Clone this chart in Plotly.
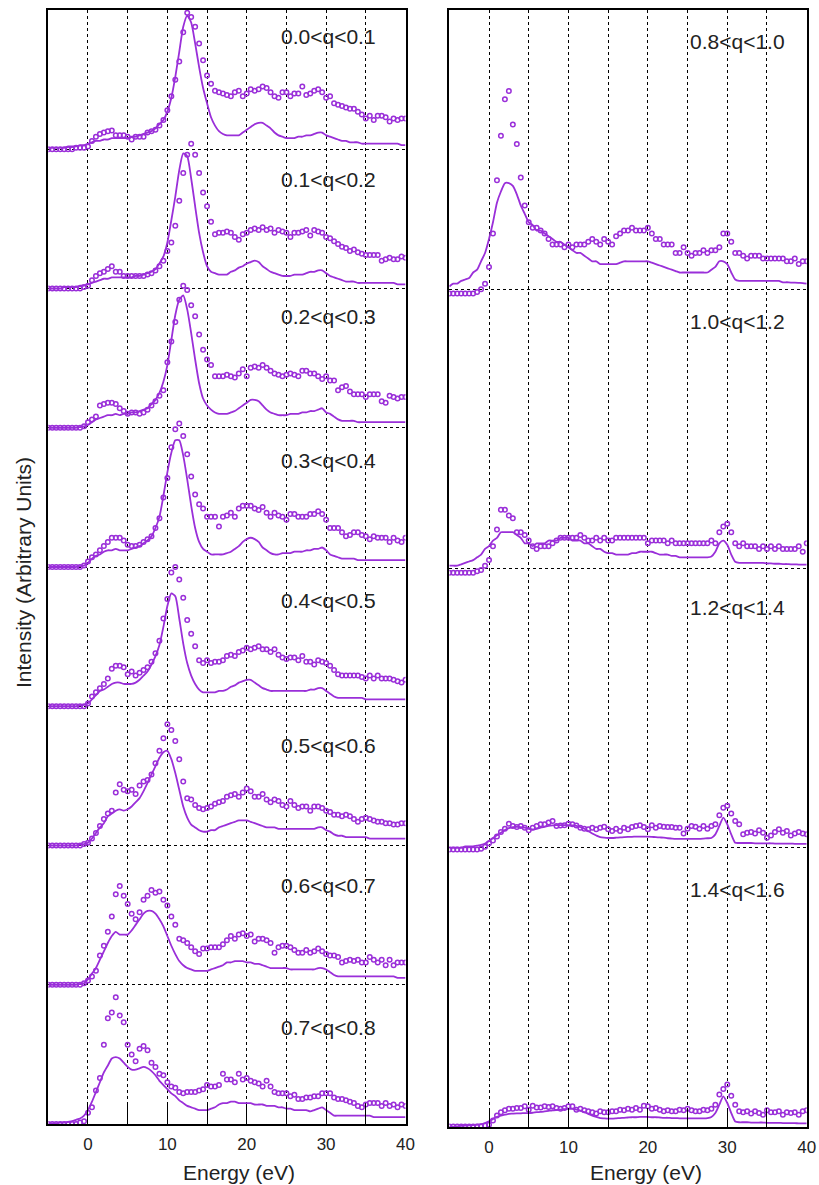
import plotly.graph_objects as go

# ---------------- data (intensities in % of one panel height) ----------------
ENERGY_EV = [-5.0, -4.5, -4.0, -3.5, -3.0, -2.5, -2.0, -1.5, -1.0, -0.5,
             0.0, 0.5, 1.0, 1.5, 2.0, 2.5, 3.0, 3.5, 4.0, 4.5,
             5.0, 5.5, 6.0, 6.5, 7.0, 7.5, 8.0, 8.5, 9.0, 9.5,
             10.0, 10.5, 11.0, 11.5, 12.0, 12.5, 13.0, 13.5, 14.0, 14.5,
             15.0, 15.5, 16.0, 16.5, 17.0, 17.5, 18.0, 18.5, 19.0, 19.5,
             20.0, 20.5, 21.0, 21.5, 22.0, 22.5, 23.0, 23.5, 24.0, 24.5,
             25.0, 25.5, 26.0, 26.5, 27.0, 27.5, 28.0, 28.5, 29.0, 29.5,
             30.0, 30.5, 31.0, 31.5, 32.0, 32.5, 33.0, 33.5, 34.0, 34.5,
             35.0, 35.5, 36.0, 36.5, 37.0, 37.5, 38.0, 38.5, 39.0, 39.5,
             40.0]

LABELS_LEFT = ["0.0<q<0.1", "0.1<q<0.2", "0.2<q<0.3", "0.3<q<0.4",
               "0.4<q<0.5", "0.5<q<0.6", "0.6<q<0.7", "0.7<q<0.8"]
LABELS_RIGHT = ["0.8<q<1.0", "1.0<q<1.2", "1.2<q<1.4", "1.4<q<1.6"]

TICK_VALUES = [0, 5, 10, 15, 20, 25, 30, 35, 40]
TICK_TEXT = ["0", "", "10", "", "20", "", "30", "", "40"]

CURVE_Q00 = [1, 1, 1, 1, 1, 2, 2, 2, 3, 3,
             4, 5, 6, 6, 7, 7, 8, 8, 8, 8,
             8, 9, 9, 10, 11, 12, 13, 15, 18, 21,
             27, 37, 52, 70, 88, 96, 91, 76, 59, 44,
             33, 23, 17, 13, 11, 10, 10, 10, 10, 12,
             14, 16, 18, 19, 19, 17, 15, 12, 10, 9,
             8, 8, 8, 9, 9, 10, 10, 11, 12, 12,
             10, 9, 8, 7, 6, 6, 5, 5, 5, 4,
             4, 4, 4, 4, 4, 4, 4, 4, 4, 3,
             3]
DOTS_Q00 = [0, 0, 0, 0, 0, 0, 0, 1, 1, 1,
            2, 6, 9, 11, 12, 13, 13.5, 10, 10, 10,
            9, 7, 9, 9, 9, 12, 13, 14, 17, 21,
            28, 38, 50, 63, 84, 98, 95, 88, 76, 64,
            53, 47, 42, 41, 40, 39, 38, 41, 42, 38,
            40, 43, 42, 43, 45, 44, 41, 38, 37, 41,
            41, 38, 40, 40, 45, 39, 40, 42, 43, 41,
            37, 38, 33, 32, 31, 30, 29, 29, 27, 25,
            22, 24, 21, 24, 24, 23, 20, 22, 21, 22,
            22]

CURVE_Q01 = [0, 0, 0, 0, 1, 1, 1, 1, 2, 2,
             3, 4, 5, 6, 7, 7, 8, 8, 8, 8,
             8, 8, 9, 9, 10, 11, 12, 14, 18, 23,
             33, 49, 66, 85, 97, 95, 79, 59, 40, 26,
             16, 12, 11, 10, 10, 10, 12, 13, 15, 16,
             18, 19, 20, 19, 16, 14, 12, 11, 10, 9,
             9, 9, 10, 10, 10, 11, 12, 12, 13, 13,
             11, 9, 8, 7, 6, 5, 5, 5, 4, 4,
             4, 4, 4, 4, 4, 4, 4, 4, 3, 3,
             3]
DOTS_Q01 = [0, 0, 0, 0, 0, 0, 0, 0, 0, 1,
            2, 6, 9, 11, 12, 14, 16, 12, 12, 9,
            9, 9, 9, 9, 9, 10, 11, 13, 16, 20,
            27, 33, 45, 63, 83, 96, 104, 96, 83, 69,
            59, 48, 39, 40, 40, 41, 40, 37, 35, 39,
            40, 42, 43, 42, 44, 42, 43, 40, 42, 41,
            40, 37, 40, 40, 41, 42, 38, 42, 41, 40,
            37, 36, 34, 32, 30, 29, 27, 28, 26, 25,
            24, 24, 24, 24, 20, 21, 22, 21, 21, 23,
            22]

CURVE_Q02 = [0, 0, 0, 0, 0, 0, 0, 0, 0.5, 1,
             2, 4, 6, 7, 8, 9, 9, 10, 9, 10,
             10, 11, 11, 12, 13, 14, 17, 20, 25, 33,
             45, 63, 81, 92, 95, 85, 68, 49, 32, 21,
             16, 13, 11, 10, 10, 10, 11, 12, 14, 16,
             18, 20, 20, 19, 16, 13, 11, 10, 9, 9,
             9, 10, 10, 10, 11, 11, 12, 12, 13, 14,
             11, 10, 8, 6, 5, 5, 5, 5, 4, 4,
             4, 4, 4, 4, 4, 4, 4, 4, 4, 4,
             4]
DOTS_Q02 = [0, 0, 0, 0, 0, 0, 0, 0, 0, 1,
            4, 6, 8, 16, 17, 18, 18, 17, 14, 12,
            10, 11, 11, 10, 11, 13, 16, 19, 23, 27,
            47, 62, 76, 92, 102, 99, 88, 80, 67, 56,
            49, 45, 37, 37, 37, 38, 37, 36, 39, 42,
            37, 43, 44, 43, 45, 43, 41, 39, 38, 37,
            38, 39, 38, 37, 41, 41, 39, 39, 37, 35,
            37, 34, 34, 27, 29, 30, 26, 24, 24, 24,
            22, 24, 24, 24, 19, 18, 23, 22, 21, 22,
            22]

CURVE_Q03 = [0, 0, 0, 0, 0, 0, 0, 0, 0.5, 1,
             3, 6, 8, 9, 11, 12, 12, 13, 12, 12,
             12, 13, 14, 15, 17, 19, 22, 28, 36, 51,
             68, 82, 91, 91, 80, 63, 44, 28, 18, 13,
             11, 9, 9, 9, 9, 10, 11, 13, 15, 18,
             20, 21, 20, 18, 14, 12, 10, 9, 9, 10,
             10, 10, 11, 11, 11, 12, 12, 13, 13, 14,
             12, 9, 8, 7, 6, 6, 6, 6, 5, 5,
             5, 5, 5, 5, 5, 5, 5, 5, 5, 5,
             5]
DOTS_Q03 = [0, 0, 0, 0, 0, 0, 0, 0, 0, 1,
            4, 7, 9, 12, 15, 18, 21, 21, 21, 19,
            16, 15, 15, 16, 18, 20, 22, 28, 35, 50,
            64, 86, 99, 103, 94, 81, 65, 52, 45, 42,
            36, 36, 36, 29, 36, 37, 39, 36, 42, 44,
            44, 44, 42, 41, 43, 39, 36, 39, 37, 36,
            34, 38, 38, 36, 36, 36, 38, 38, 40, 38,
            34, 28, 28, 28, 25, 22, 23, 25, 25, 23,
            22, 20, 22, 21, 21, 21, 18, 21, 19, 18,
            21]

CURVE_Q04 = [0, 0, 0, 0, 0, 0, 0, 0, 0.5, 1,
             2, 5, 8, 11, 12, 14, 16, 17, 17, 16,
             16, 16, 17, 19, 22, 25, 30, 36, 44, 57,
             72, 81, 79, 63, 45, 31, 22, 16, 12, 10,
             10, 10, 10, 11, 11, 12, 14, 15, 17, 18,
             19, 19, 17, 15, 13, 12, 11, 11, 11, 11,
             11, 11, 11, 11, 11, 11, 12, 12, 13, 13,
             11, 9, 7, 6, 6, 6, 6, 6, 6, 6,
             5, 5, 5, 5, 5, 5, 5, 5, 5, 5,
             5]
DOTS_Q04 = [0, 0, 0, 0, 0, 0, 0, 0, 0, 0,
            2, 7, 10, 13, 16, 20, 27, 29, 29, 28,
            23, 25, 22, 24, 26, 28, 32, 38, 47, 63,
            77, 96, 100, 91, 78, 62, 52, 43, 33, 31,
            33, 31, 32, 32, 33, 36, 37, 36, 39, 40,
            42, 41, 42, 43, 41, 41, 39, 41, 37, 35,
            34, 35, 35, 33, 36, 32, 32, 30, 33, 32,
            31, 29, 26, 23, 22, 22, 22, 22, 22, 21,
            20, 22, 20, 22, 20, 20, 20, 19, 18, 17,
            19]

CURVE_Q05 = [0, 0, 0, 0, 0, 0, 0, 0, 0.5, 1,
             2, 5, 9, 13, 16, 21, 23, 25, 26, 25,
             26, 28, 31, 34, 39, 45, 51, 57, 63, 67,
             68, 62, 52, 40, 28, 20, 15, 13, 11, 10,
             10, 11, 11, 13, 14, 15, 16, 17, 18, 18,
             18, 17, 16, 15, 14, 13, 13, 13, 12, 12,
             12, 12, 12, 12, 12, 12, 12, 12, 13, 13,
             11, 10, 8, 7, 7, 6, 6, 6, 6, 6,
             6, 5, 5, 5, 5, 5, 5, 5, 5, 5,
             5]
DOTS_Q05 = [0, 0, 0, 0, 0, 0, 0, 0, 0, 1,
            2, 5, 9, 14, 19, 23, 25, 38, 44, 40,
            39, 40, 37, 43, 46, 47, 51, 59, 68, 77,
            87, 83, 75, 62, 46, 34, 33, 29, 27, 26,
            27, 28, 30, 31, 32, 35, 36, 37, 35, 38,
            41, 39, 35, 35, 37, 33, 31, 33, 32, 29,
            28, 32, 29, 27, 28, 28, 25, 28, 28, 27,
            25, 24, 22, 22, 21, 22, 21, 19, 17, 19,
            20, 19, 18, 17, 17, 16, 16, 15, 15, 16,
            16]

CURVE_Q06 = [0, 0, 0, 0, 0, 0, 0, 0, 0.5, 1,
             4, 8, 12, 18, 24, 30, 35, 38, 36, 36,
             36, 39, 43, 47, 51, 53, 53, 51, 47, 42,
             35, 28, 22, 17, 14, 12, 11, 10, 10, 10,
             10, 11, 12, 13, 14, 16, 16, 17, 17, 17,
             16, 16, 15, 15, 14, 13, 12, 12, 12, 12,
             12, 11, 11, 11, 11, 11, 11, 11, 12, 12,
             11, 9, 7, 6, 6, 6, 6, 6, 6, 6,
             6, 6, 6, 6, 6, 6, 6, 6, 5, 5,
             5]
DOTS_Q06 = [0, 0, 0, 0, 0, 0, 0, 0, 0, 1,
            3, 6, 10, 21, 28, 38, 49, 65, 71, 64,
            58, 51, 47, 52, 61, 64, 68, 66, 67, 61,
            57, 49, 43, 33, 32, 30, 27, 24, 22, 26,
            26, 27, 27, 27, 29, 32, 35, 33, 36, 37,
            35, 36, 31, 33, 33, 32, 30, 23, 27, 28,
            28, 27, 25, 23, 23, 25, 23, 24, 26, 24,
            22, 21, 21, 20, 16, 17, 18, 17, 18, 16,
            16, 20, 18, 16, 18, 14, 18, 14, 16, 16,
            16]

CURVE_Q07 = [0, 0.5, 0.5, 1, 1, 1.5, 2, 3, 4, 6,
             10, 16, 23, 30, 37, 42, 47, 48, 47, 44,
             41, 39, 39, 40, 41, 40, 38, 35, 31, 28,
             25, 22, 20, 17, 15, 13, 12, 11, 10, 10,
             10, 11, 12, 14, 15, 15, 16, 16, 15, 15,
             15, 15, 14, 14, 14, 13, 13, 13, 12, 12,
             11, 11, 10, 10, 10, 10, 9, 10, 11, 12,
             10, 8, 6, 6, 6, 6, 6, 6, 6, 6,
             6, 6, 5, 5, 5, 5, 5, 5, 5, 5,
             5]
DOTS_Q07 = [0, 0, 0, 0, 0, 0, 0, 0, 1, 2,
            8, 12, 24, 33, 57, 76, 80, 91, 78, 73,
            57, 50, 45, 54, 56, 53, 44, 41, 36, 35,
            30, 27, 26, 23, 22, 23, 23, 23, 24, 25,
            28, 27, 27, 28, 36, 32, 32, 30, 36, 32,
            33, 31, 30, 29, 27, 31, 27, 23, 22, 22,
            22, 20, 21, 18, 18, 19, 19, 20, 20, 22,
            22, 22, 19, 18, 18, 17, 16, 15, 13, 12,
            14, 15, 15, 15, 13, 15, 13, 14, 12, 14,
            13]

CURVE_Q08 = [1, 2, 2, 3, 3.5, 4, 6, 7, 10, 13,
             18, 24, 31, 35, 38, 38, 37, 34, 30, 27,
             24, 23, 21, 21, 20, 19, 18, 17, 17, 16,
             15, 14, 13, 13, 12, 11, 10, 10, 9, 9,
             9, 9, 9, 9.5, 10, 10, 10, 10, 10, 10,
             10, 9.5, 9, 8.5, 8, 7.5, 7, 6.5, 6, 6,
             6, 6, 6, 6, 6, 6, 7, 8, 10, 10,
             9, 6, 3.5, 3, 3, 3, 3, 3, 3, 3,
             3, 3, 3, 3, 2.5, 2.5, 2.4, 2.4, 2.3, 2.2,
             2]
DOTS_Q08 = [-1.5, -1.5, -1.5, -1.5, -1.5, -1.5, -1.5, -1, 0, 2,
            8, 20, 39, 55, 68, 71, 59, 52, 40, 30,
            24, 22, 22, 21, 20, 18, 16, 16, 16, 15,
            16, 15, 16, 16, 16, 17, 18, 17, 16, 18,
            17, 16, 19, 20, 21, 21, 22, 21, 21, 21,
            22, 20, 18, 18, 16, 16, 16, 13, 13, 15,
            13, 12, 13, 13, 14, 13, 14, 14, 15, 20,
            20, 17, 13, 13, 12, 11, 12, 12, 12, 11,
            11, 11, 11, 11, 11, 10, 10, 11, 9, 10,
            10]

CURVE_Q10 = [1, 1, 1, 1.5, 2, 2.5, 3, 4, 5, 7,
             8, 10, 11, 13, 13, 13, 13, 12, 11, 9,
             9, 8, 9, 9, 9, 10, 10, 10, 11, 11,
             11, 10, 10, 10, 9, 9, 8, 7, 7, 6,
             5.5, 5.5, 5, 5, 5, 5, 5.5, 5.5, 6, 6,
             6, 6, 5.5, 5, 5, 5, 4.5, 4.5, 4, 4,
             4, 4, 4, 4, 4, 4, 4.3, 6, 9, 10,
             8.5, 5, 2.4, 2, 2, 2, 2, 2, 2, 2,
             1.8, 1.8, 1.7, 1.7, 1.6, 1.6, 1.5, 1.5, 1.4, 1.4,
             1.4]
DOTS_Q10 = [-1.5, -1.5, -1.5, -1.5, -1.5, -1.5, -1.5, -1, -0.5, 1,
            3, 8, 14, 21, 21, 19, 18, 13, 13, 12,
            10, 8, 7, 8, 8, 8, 9, 10, 11, 11,
            11, 11, 11, 12, 11, 10, 10, 11, 10, 11,
            10, 10, 11, 11, 11, 11, 11, 11, 11, 11,
            9, 10, 10, 10, 10, 9, 10, 9, 9, 9,
            9, 9, 9, 9, 9, 9, 10, 9, 13, 15,
            16, 13, 9, 8, 9, 8, 8, 8, 7, 8,
            7, 8, 7, 8, 7, 7, 7, 7, 8, 6,
            9]

CURVE_Q12 = [0, 0, 0, 0, 0.5, 0.5, 0.5, 0.8, 1, 1.5,
             2.4, 3.5, 4.5, 5.4, 6.3, 7, 7.4, 7.5, 7.4, 7.2,
             6.8, 6.6, 6.8, 7.2, 7.5, 7.8, 8, 8.1, 8.1, 8.1,
             8.1, 8, 7.8, 7.4, 6.8, 6, 5.1, 4.4, 3.8, 3.6,
             3.5, 3.5, 3.6, 3.7, 3.8, 3.9, 3.9, 4, 4, 4,
             4, 3.9, 3.8, 3.7, 3.6, 3.4, 3.3, 3.2, 3.2, 3.2,
             3.2, 3.2, 3.2, 3.2, 3.3, 3.4, 3.5, 4.8, 7.8, 10.8,
             8.4, 4.8, 1.8, 1.7, 1.7, 1.7, 1.7, 1.6, 1.6, 1.6,
             1.6, 1.6, 1.5, 1.5, 1.5, 1.5, 1.5, 1.4, 1.4, 1.4,
             1.4]
DOTS_Q12 = [-0.6, -0.6, -0.6, -0.6, -0.6, -0.6, -0.6, -0.6, -0.4, 0.4,
            1.6, 2.6, 4, 5.6, 6.8, 8.6, 7.8, 7.4, 7.8, 7.2,
            6.3, 7.2, 7.8, 8.4, 8.4, 9, 9.6, 7.8, 8, 8.1,
            8.6, 8.4, 8, 7.2, 6.8, 6.6, 7.2, 6.6, 7.2, 7.5,
            6.6, 6, 6.8, 6, 7.2, 6.6, 7.4, 7.8, 8.1, 7.4,
            6.6, 8.1, 7.2, 7.8, 7.5, 7.4, 7.4, 7.2, 7.2, 5.1,
            6.8, 7.8, 7.5, 6.8, 7.8, 6.8, 7.8, 8.4, 11.6, 14.3,
            15, 12.3, 9.6, 8.4, 4.8, 5.4, 5.6, 5.1, 6.3, 5.4,
            3.6, 4.4, 5.6, 6.6, 5.4, 6, 4.4, 5.1, 5.6, 5.1,
            4.8]

CURVE_Q14 = [0, 0.1, 0.2, 0.4, 0.5, 0.6, 0.7, 0.8, 1, 1.4,
             2, 2.9, 3.6, 4.1, 4.4, 4.7, 4.8, 4.9, 4.9, 5,
             5, 5.1, 5.3, 5.4, 5.6, 5.8, 6, 6.1, 6.2, 6.4,
             6.5, 6.5, 6.2, 5.9, 5.3, 4.7, 4.1, 3.6, 3.2, 3.1,
             3, 3, 3.1, 3.2, 3.3, 3.4, 3.5, 3.5, 3.6, 3.6,
             3.6, 3.5, 3.5, 3.4, 3.3, 3.3, 3.2, 3.2, 3.1, 3.1,
             3.1, 3.1, 3.1, 3.1, 3.1, 3.2, 3.6, 5, 8, 11,
             8.6, 5, 2, 1.7, 1.7, 1.7, 1.6, 1.6, 1.6, 1.6,
             1.5, 1.5, 1.5, 1.5, 1.4, 1.4, 1.4, 1.4, 1.3, 1.3,
             1.3]
DOTS_Q14 = [0.2, 0.2, 0.2, 0.2, 0.2, 0.2, 0.2, 0.2, 0.2, 0.5,
            0.8, 2.3, 4.1, 5.3, 6, 6.5, 6.5, 6.8, 6.8, 7.4,
            6.2, 7.6, 7, 7, 7.4, 7.2, 7.4, 6.8, 6.5, 6.8,
            7.4, 7.4, 6.2, 6.5, 6, 5.6, 5.3, 4.8, 5.6, 5.3,
            5.3, 5.6, 5.6, 6.2, 6, 6.5, 6.2, 6.8, 6.2, 7.6,
            7.4, 6.5, 6.8, 6.2, 5.6, 6, 5.6, 5.6, 6.2, 6,
            6.5, 6, 5.6, 5.6, 6.2, 6, 6.5, 8, 11.6, 13.6,
            15.2, 11.2, 8, 5.6, 5.3, 5.6, 4.8, 5.6, 5, 4.4,
            6, 5.3, 5.3, 5.6, 4.4, 5.3, 5, 5.3, 4.4, 5.6,
            6]

LEFT_CURVES = [CURVE_Q00, CURVE_Q01, CURVE_Q02, CURVE_Q03,
               CURVE_Q04, CURVE_Q05, CURVE_Q06, CURVE_Q07]
LEFT_DOTS = [DOTS_Q00, DOTS_Q01, DOTS_Q02, DOTS_Q03,
             DOTS_Q04, DOTS_Q05, DOTS_Q06, DOTS_Q07]
RIGHT_CURVES = [CURVE_Q08, CURVE_Q10, CURVE_Q12, CURVE_Q14]
RIGHT_DOTS = [DOTS_Q08, DOTS_Q10, DOTS_Q12, DOTS_Q14]

for arr in LEFT_CURVES + LEFT_DOTS + RIGHT_CURVES + RIGHT_DOTS:
    assert len(arr) == len(ENERGY_EV), len(arr)

# ---------------- layout / style ----------------
W, H = 819, 1185
PURPLE = "#9A2FD9"
FONT = "Liberation Sans, Arial, Helvetica, sans-serif"
TXT = "#222222"

# label drop below each panel top (fraction of panel height)
LEFT_LABEL_DROP = [0.19, 0.22, 0.20, 0.235, 0.24, 0.28, 0.285, 0.31]
RIGHT_LABEL_DROP = [0.114, 0.117, 0.14, 0.15]

fig = go.Figure()


def add_column(curves, dots, labels, drops, xa, ya, label_x):
    n = len(curves)
    for k in range(n):
        off = n - 1 - k
        fig.add_trace(go.Scatter(
            x=ENERGY_EV, y=[off + v / 100.0 for v in curves[k]],
            mode="lines", xaxis=xa, yaxis=ya,
            line=dict(color=PURPLE, width=1.8, shape="spline", smoothing=0.6),
            showlegend=False, hoverinfo="skip"))
        fig.add_trace(go.Scatter(
            x=ENERGY_EV, y=[off + v / 100.0 for v in dots[k]],
            mode="markers", xaxis=xa, yaxis=ya,
            marker=dict(symbol="circle-open", size=4.5, color=PURPLE,
                        line=dict(width=1.5, color=PURPLE)),
            showlegend=False, hoverinfo="skip"))
        fig.add_annotation(
            x=label_x, y=off + 1 - drops[k], xref=xa, yref=ya,
            text=labels[k], showarrow=False, xanchor="left", yanchor="middle",
            font=dict(family=FONT, size=21, color=TXT))


add_column(LEFT_CURVES, LEFT_DOTS, LABELS_LEFT, LEFT_LABEL_DROP, "x", "y", 24.1)
add_column(RIGHT_CURVES, RIGHT_DOTS, LABELS_RIGHT, RIGHT_LABEL_DROP, "x2", "y2", 25.0)

xcommon = dict(range=[-5, 40], tickmode="array", tickvals=TICK_VALUES,
               ticktext=TICK_TEXT, ticks="inside", ticklen=19, tickwidth=1.2,
               tickcolor="black", showgrid=True, gridcolor="black",
               gridwidth=1.2, griddash="3px,3px", showline=True,
               linecolor="black", linewidth=1.5, mirror=True, zeroline=False,
               automargin=False, ticklabelstandoff=4,
               tickfont=dict(family=FONT, size=17, color=TXT), fixedrange=True)
ycommon = dict(tickmode="array", showticklabels=False, ticks="",
               showgrid=True, gridcolor="black", gridwidth=1.2,
               griddash="3px,3px", showline=True, linecolor="black",
               linewidth=1.5, mirror=True, zeroline=False, automargin=False,
               fixedrange=True)

fig.update_layout(
    width=W, height=H, autosize=False,
    margin=dict(l=0, r=0, t=0, b=0, autoexpand=False),
    paper_bgcolor="white", plot_bgcolor="white",
    xaxis=dict(domain=[48.3 / W, 405.5 / W], anchor="y", **xcommon),
    yaxis=dict(domain=[1 - 1124 / H, 1 - 10 / H], anchor="x", range=[0, 8],
               tickvals=[1, 2, 3, 4, 5, 6, 7], **ycommon),
    xaxis2=dict(domain=[449.3 / W, 806.7 / W], anchor="y2", **xcommon),
    yaxis2=dict(domain=[1 - 1127 / H, 1 - 10 / H], anchor="x2", range=[0, 4],
                tickvals=[1, 2, 3], **ycommon),
)

for cx in (239, 646):
    fig.add_annotation(x=cx / W, y=1 - 1172 / H, xref="paper", yref="paper",
                       text="Energy (eV)", showarrow=False,
                       xanchor="center", yanchor="middle",
                       font=dict(family=FONT, size=21, color=TXT))

fig.add_annotation(x=23 / W, y=1 - 573 / H, xref="paper", yref="paper",
                   text="Intensity (Arbitrary Units)", textangle=-90,
                   showarrow=False, xanchor="center", yanchor="middle",
                   font=dict(family=FONT, size=21, color=TXT))

fig.write_html("out.html")
